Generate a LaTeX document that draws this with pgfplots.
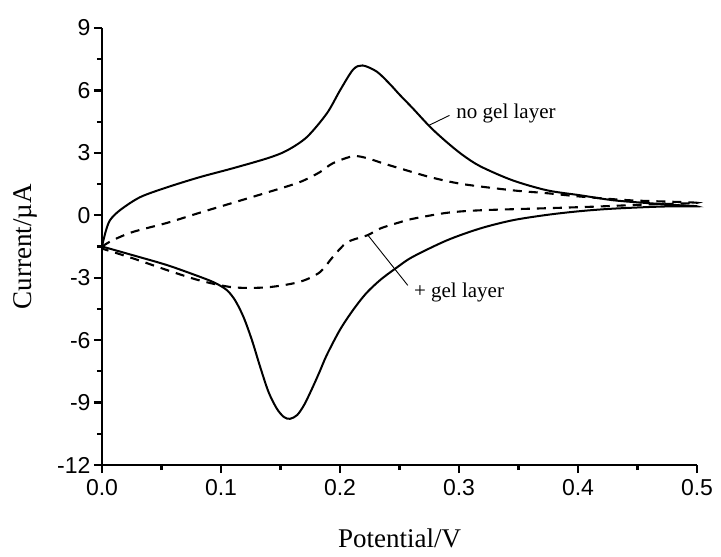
\documentclass[border=0pt]{standalone}
\usepackage{fontspec}
\setmainfont{Liberation Serif}
\setsansfont{Liberation Sans}
\usepackage{pgfplots}
\pgfplotsset{compat=1.18}
\usetikzlibrary{calc}
\begin{document}
\begin{tikzpicture}
\begin{axis}[
  name=a,
  scale only axis,
  width=595pt, height=437pt,
  xmin=0, xmax=0.5, ymin=-12, ymax=9,
  axis x line*=bottom, axis y line*=left,
  axis line style={line width=2.4pt},
  xtick={0,0.1,0.2,0.3,0.4,0.5},
  ytick={-12,-9,-6,-3,0,3,6,9},
  minor x tick num=1, minor y tick num=1,
  tick align=outside,
  major tick length=8pt, minor tick length=5pt,
  every tick/.style={line width=2.2pt, black},
  /pgf/number format/assume math mode=true,
  tick label style={font=\sffamily\fontsize{23}{27}\selectfont},
  xticklabel style={yshift=-3pt, /pgf/number format/.cd, fixed, fixed zerofill, precision=1},
  yticklabel style={/pgf/number format/.cd, fixed, precision=0},
  scaled x ticks=false,
  xlabel={Potential/V},
  ylabel={Current/\textmu A},
  label style={font=\rmfamily\fontsize{27}{30}\selectfont},
  x label style={at={(axis description cs:0.5,-0.167)}, anchor=center},
  y label style={at={(axis description cs:-0.128,0.5)}, anchor=center, rotate=0},
  clip=false,
]
% no gel layer (solid)
\addplot[black, line width=2pt, smooth] coordinates {
(0,-1.5) (0.003,-0.8) (0.0067,-0.24) (0.015,0.24) (0.032,0.87) (0.055,1.35)
(0.082,1.83) (0.110,2.26) (0.139,2.74) (0.155,3.1) (0.172,3.75) (0.189,4.9)
(0.200,6.0) (0.211,7.0) (0.219,7.2) (0.231,6.9) (0.242,6.3) (0.250,5.8)
(0.261,5.15) (0.276,4.23) (0.290,3.5) (0.303,2.9) (0.318,2.35) (0.345,1.68)
(0.374,1.2) (0.402,0.96) (0.430,0.72) (0.460,0.58) (0.486,0.48) (0.5,0.43)
(0.471,0.42) (0.430,0.32) (0.402,0.2) (0.374,0.02) (0.345,-0.24) (0.318,-0.63)
(0.290,-1.2) (0.261,-2.0) (0.248,-2.5) (0.234,-3.1) (0.222,-3.75) (0.211,-4.55)
(0.200,-5.5) (0.189,-6.7) (0.183,-7.5) (0.177,-8.27) (0.170,-9.1) (0.164,-9.6)
(0.158,-9.78) (0.153,-9.7) (0.147,-9.3) (0.140,-8.5) (0.133,-7.3) (0.126,-6.0)
(0.119,-4.9) (0.112,-4.1) (0.105,-3.6) (0.095,-3.25) (0.082,-2.95)
(0.055,-2.4) (0.026,-1.92) (0,-1.5)
};
% + gel layer (dashed)
\addplot[black, line width=2.1pt, smooth, dash pattern=on 9pt off 7pt] coordinates {
(0,-1.5) (0.009,-1.2) (0.026,-0.8) (0.055,-0.36) (0.082,0.12) (0.110,0.6)
(0.139,1.1) (0.166,1.59) (0.183,2.07) (0.194,2.5) (0.211,2.84) (0.223,2.74)
(0.236,2.5) (0.250,2.26) (0.276,1.83) (0.303,1.5) (0.345,1.2) (0.374,1.06)
(0.402,0.9) (0.444,0.72) (0.5,0.6)
(0.458,0.52) (0.416,0.42) (0.374,0.34) (0.318,0.24) (0.290,0.12) (0.261,-0.17)
(0.250,-0.34) (0.234,-0.63) (0.223,-0.96) (0.206,-1.3) (0.194,-2.0) (0.183,-2.74)
(0.166,-3.2) (0.139,-3.46) (0.110,-3.46) (0.082,-3.13) (0.055,-2.64) (0.026,-2.07)
(0,-1.6)
};
\draw[line width=0.9pt] (axis cs:0.275,4.33) -- (axis cs:0.292,4.8);
\node[font=\rmfamily\fontsize{21}{24}\selectfont, anchor=center] at (axis cs:0.3395,4.9) {no gel layer};
\draw[line width=0.9pt] (axis cs:0.2235,-0.96) -- (axis cs:0.257,-3.37);
\node[font=\rmfamily\fontsize{21}{24}\selectfont, anchor=center] at (axis cs:0.30,-3.7) {+ gel layer};
\end{axis}
\path (a.south west) ++(-102pt,-91pt) rectangle ($(a.north east)+(24pt,28pt)$);
\end{tikzpicture}
\end{document}
